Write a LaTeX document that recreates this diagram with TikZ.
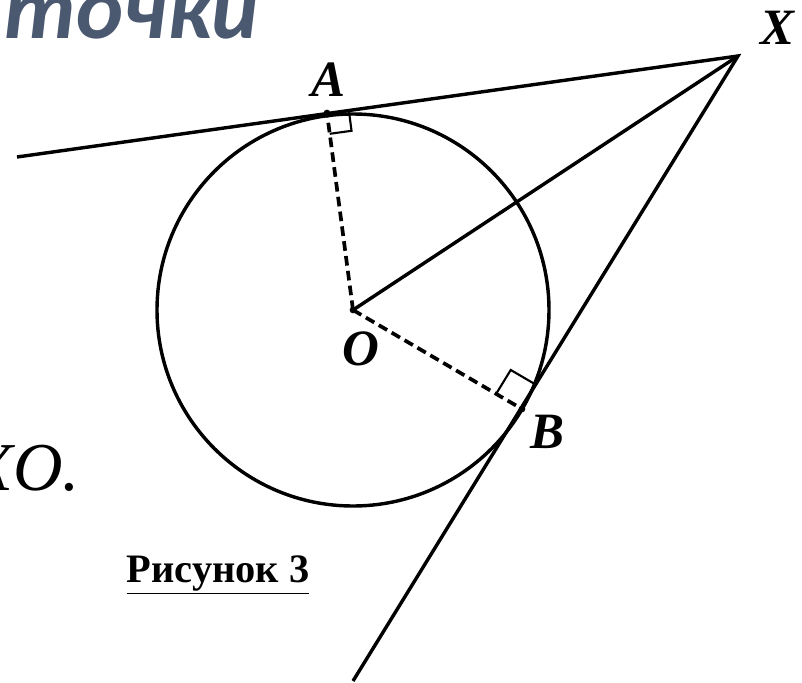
\documentclass[tikz,border=0pt]{standalone}
\usepackage{fontspec}
\setmainfont{Liberation Serif}
\newfontfamily\titlefont{Carlito}
\usetikzlibrary{calc}
\definecolor{titlegrey}{RGB}{74,88,112}
\tikzset{
  solidline/.style={line width=1.95pt, line join=miter},
  dashline/.style={line width=2.1pt, dash pattern=on 5.5pt off 3pt},
  markline/.style={line width=1.2pt},
  ptlabel/.style={font=\fontsize{29}{31}\selectfont\bfseries\itshape, inner sep=0pt},
  ptdot/.style={circle, fill=black, inner sep=0pt, minimum size=3.8pt}
}
\begin{document}
\begin{tikzpicture}[x=0.02cm, y=-0.02cm]
\useasboundingbox (0,0) rectangle (802,683);
\clip (0,0) rectangle (802,683);
\coordinate (O) at (353,310);
\coordinate (X) at (738,56);
\coordinate (A) at (327,113);
\coordinate (B) at (522,409);
\coordinate (L) at (17,157);
\coordinate (D) at (353,681);
% circle
\draw[solidline] (O) circle[radius=196];
% tangent lines
\draw[solidline] (L) -- (X) -- (D);
\draw[solidline] (O) -- (X);
% radii
\draw[dashline] (O) -- (A);
\draw[dashline] (O) -- (B);
% right angle markers
\coordinate (a1) at ($(A)!0.44cm!(X)$);
\coordinate (a2) at ($(A)!0.42cm!(O)$);
\draw[markline] (a1) -- ($(a1)+(a2)-(A)$) -- (a2);
\coordinate (b1) at ($(B)!0.56cm!(X)$);
\coordinate (b2) at ($(B)!0.6cm!(O)$);
\draw[markline] (b1) -- ($(b1)+(b2)-(B)$) -- (b2);
% points
\node[ptdot] (Ad) at (A) {};
\node[ptdot] (Bd) at (B) {};
\node[ptdot] (Od) at (O) {};
% labels
\node[ptlabel] (lA) at (328,80) {A};
\node[ptlabel] (lX) at (777,28) {X};
\node[ptlabel] (lB) at (547,432) {B};
\node[ptlabel] (lO) at (361,349) {O};
% caption
\node[font=\fontsize{23}{26}\selectfont\bfseries, inner sep=0pt, anchor=base] (cap) at (218,582) {\underline{Рисунок 3}};
% background text fragments
\node[font=\titlefont\fontsize{51}{54}\selectfont\bfseries\itshape, text=titlegrey, inner sep=0pt, anchor=base east] (title) at (259,38) {точки};
\node[font=\fontsize{39}{41}\selectfont\itshape, inner sep=0pt, anchor=base east] (xo) at (80,490) {XO.};
\end{tikzpicture}
\end{document}
